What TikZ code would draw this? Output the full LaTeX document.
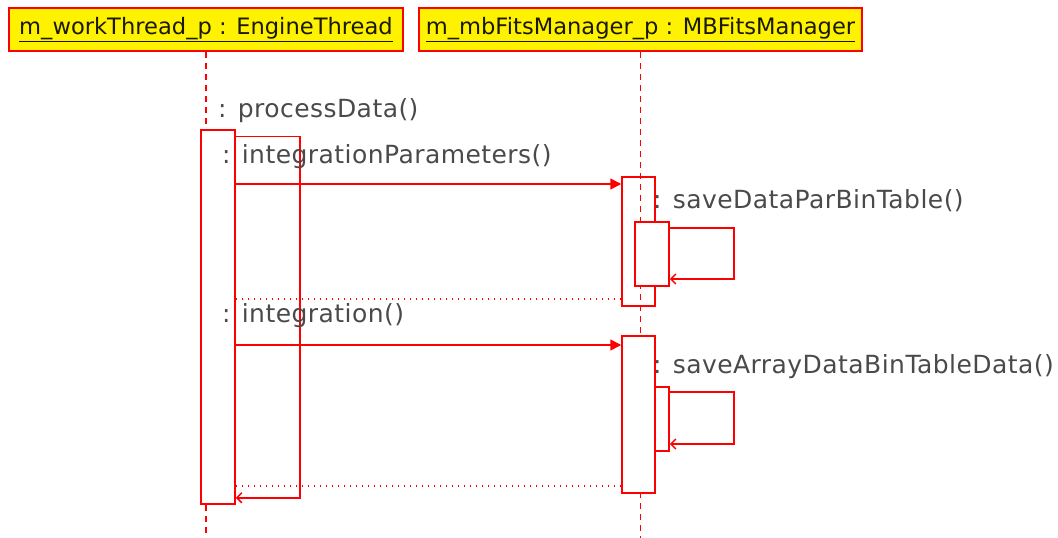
\documentclass[tikz,border=0pt]{standalone}
\usepackage{fontspec}
\setmainfont{DejaVu Sans}
\newfontfamily\lblfont[LetterSpace=1.8]{DejaVu Sans}
\usetikzlibrary{arrows.meta}
\definecolor{labelgray}{HTML}{4A4A4A}
\definecolor{hdrtext}{HTML}{1A1A00}
\begin{document}
\begin{tikzpicture}[x=1pt,y=-1pt,
  hdr/.style={draw=red, fill=yellow, line width=1.5pt, inner sep=0pt, text=hdrtext, font=\fontsize{22.6}{26}\selectfont},
  act/.style={draw=red, line width=1.5pt, inner sep=0pt},
  life/.style={draw=red, line width=1.5pt, dash pattern=on 6pt off 5pt},
  msg/.style={draw=red, line width=1.5pt, -{Triangle[length=11pt,width=11pt]}},
  ret/.style={draw=red, line width=1.5pt, dash pattern=on 1.5pt off 4.5pt},
  selfcall/.style={draw=red, line width=1.5pt, -{Straight Barb[length=5pt,width=10pt]}},
  lbl/.style={anchor=base west, inner sep=0pt, text=labelgray, font=\lblfont\fontsize{25}{28}\selectfont}]
\useasboundingbox (0,0) rectangle (1058,538);

% headers
\node[hdr, minimum width=394pt, minimum height=43pt] (h1) at (206,29.5) {\underline{m\_workThread\_p : EngineThread}};
\node[hdr, minimum width=443pt, minimum height=43pt] (h2) at (640.5,29.5) {\underline{m\_mbFitsManager\_p : MBFitsManager}};

\coordinate (l1end) at (205,538);
\coordinate (l2end) at (639,538);

% lifeline 2 (behind activations)
\draw[life] (h2.south) -- (h2.south |- l2end);

% activations
\node[act, minimum width=34pt, minimum height=374pt, fill=white] (A) at (218,317) {};
\node[act, minimum width=33pt, minimum height=129pt] (B1) at (638.5,241.5) {};
\node[act, minimum width=34pt, minimum height=64pt, fill=white] (B1n) at (652,254) {};
\node[act, minimum width=33pt, minimum height=157pt, fill=white] (B2) at (638.5,414.5) {};
\node[act, minimum width=14pt, minimum height=64pt, fill=white] (B2n) at (662,419) {};

% lifeline 1
\draw[life] (h1.south) -- (h1.south |- A.north);
\draw[life] (h1.south |- A.south) -- (h1.south |- l1end);

% self call on thread
\draw[selfcall] ([yshift=-7pt]A.north east) -- ++(64,0) |- ([yshift=7pt]A.south east);

% messages
\draw[msg] (A.east |- 0,184) -- (B1.west |- 0,184);
\draw[ret] (B1.west |- 0,299) -- (A.east |- 0,299);
\draw[selfcall] (B1n.east |- 0,228) -- ++(64,0) |- (B1n.east |- 0,279);

\draw[msg] (A.east |- 0,345) -- (B2.west |- 0,345);
\draw[selfcall] (B2n.east |- 0,392) -- ++(64,0) |- (B2n.east |- 0,444);
\draw[ret] (B2.west |- 0,486) -- (A.east |- 0,486);

% labels
\node[lbl] (t1) at (218,117) {: processData()};
\node[lbl] (t2) at (222,163) {: integrationParameters()};
\node[lbl] (t3) at (653,208) {: saveDataParBinTable()};
\node[lbl] (t4) at (222,322) {: integration()};
\node[lbl] (t5) at (653,373) {: saveArrayDataBinTableData()};
\end{tikzpicture}
\end{document}
